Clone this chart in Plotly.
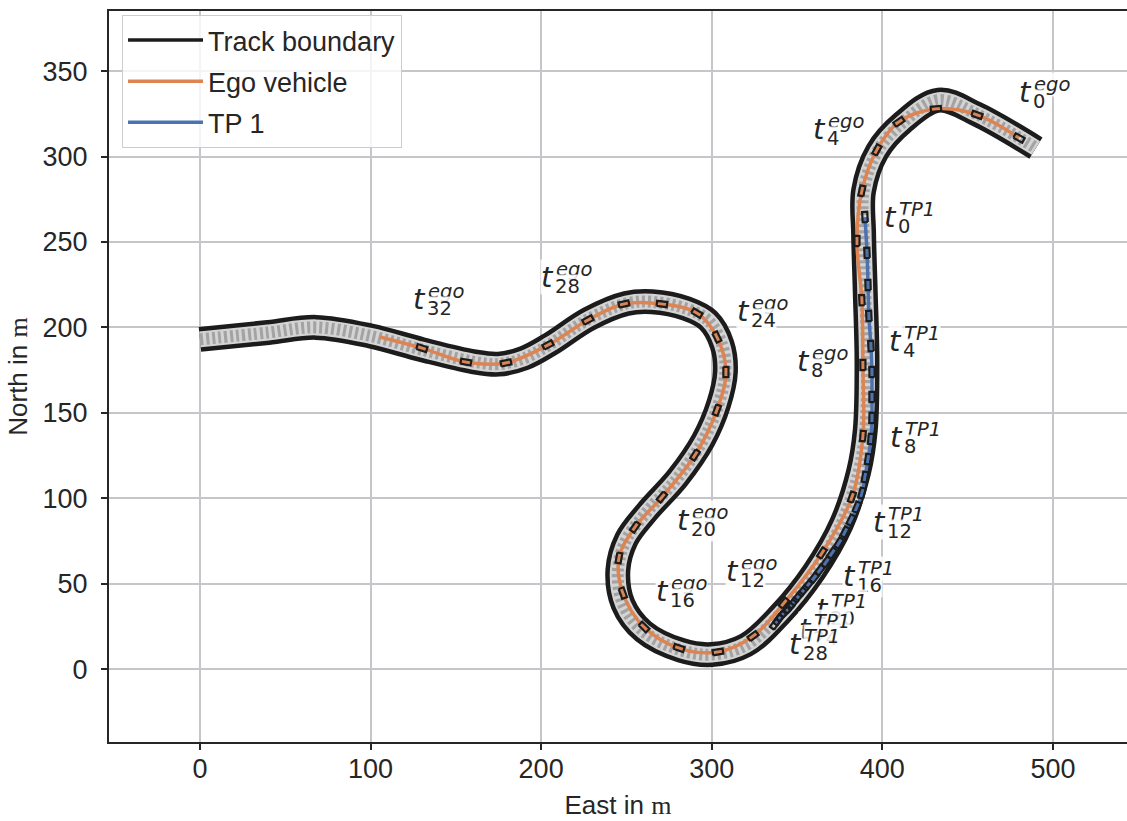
import numpy as np
import plotly.graph_objects as go

# Track centre line (East, North) in metres
track_east = [0, 40, 68, 100, 130, 160, 175, 190, 205, 228, 250, 265, 285, 298, 306, 308,
              304, 295, 280, 262, 250, 245, 248, 260, 282, 300, 320, 340, 360, 376, 386,
              390, 391, 390, 389, 389, 397, 412, 433, 455, 490]
track_north = [193, 197, 200, 195, 187, 180, 178.5, 182, 190, 205, 214, 215, 211, 204, 190, 174,
               155, 134, 112, 92, 76, 58, 38, 22, 11, 8.5, 14, 32, 57, 85, 115,
               140, 180, 220, 255, 280, 303, 320, 333, 325, 305]

# Ego vehicle position at each time step t0 ... t32
ego_east = [480.1, 455.5, 431.4, 409.7, 396.8, 388.0, 385.1, 388.0, 388.6, 388.6, 382.2,
            364.6, 342.3, 324.2, 303.6, 280.8, 260.3, 247.9, 245.6, 255.0, 270.8, 290.2,
            303.0, 308.3, 303.0, 291.3, 270.8, 248.5, 227.4, 204.0, 179.4, 155.9, 130.1]
ego_north = [310.9, 324.4, 327.9, 320.3, 303.9, 279.9, 250.6, 216.0, 178.0, 136.4, 100.7,
             67.9, 38.6, 19.3, 10.0, 12.3, 24.6, 44.5, 65.0, 83.1, 100.7, 125.3,
             151.6, 173.9, 194.4, 208.4, 213.7, 213.7, 204.3, 189.7, 179.2, 179.7, 187.9]
# End of the ego trajectory after the last drawn step
ego_tail_east = [105.5]
ego_tail_north = [194.4]

# Target participant 1 position at each time step t0 ... t28
tp1_east = [389.8, 391.0, 391.6, 392.1, 393.3, 393.9, 393.9, 393.9, 393.3, 391.6, 389.8,
            388.0, 385.1, 381.6, 378.1, 374.6, 370.5, 367.0, 363.4, 359.9, 356.4, 353.5,
            350.5, 347.6, 345.3, 343.0, 340.6, 338.9, 337.1]
tp1_north = [264.6, 243.6, 224.8, 206.7, 189.1, 173.9, 159.3, 147.0, 134.7, 122.9, 112.4,
             103.0, 94.8, 87.2, 80.2, 73.8, 67.9, 62.6, 58.0, 53.3, 49.2, 45.7,
             42.2, 38.6, 35.7, 33.4, 31.0, 28.7, 26.3]

# Time-step labels: step index and anchor (right edge / baseline of the "t")
ego_label_steps = [0, 4, 8, 12, 16, 20, 24, 28, 32]
ego_label_east = [488.3, 367.5, 358.1, 316.5, 275.5, 287.8, 323.0, 208.1, 133.1]
ego_label_north = [331.4, 309.7, 173.9, 50.9, 39.2, 80.8, 203.2, 223.1, 210.2]
tp1_label_steps = [0, 4, 8, 12, 16, 20, 24, 28]
tp1_label_east = [409.1, 412.1, 412.7, 402.7, 385.1, 369.3, 359.3, 353.5]
tp1_label_north = [258.2, 185.6, 129.4, 79.6, 48.0, 28.7, 17.0, 8.2]

x_ticks = [0, 100, 200, 300, 400, 500]
y_ticks = [0, 50, 100, 150, 200, 250, 300, 350]

CAR_LENGTH = 6.0
CAR_WIDTH = 3.0

BLACK = "#1c1c1c"
ORANGE = "#dd8452"
BLUE = "#4c72b0"
TEXT = "#262626"


def car_outlines(xs, ys):
    """Oriented rectangles around each position, aligned with the heading."""
    xs = np.asarray(xs, dtype=float)
    ys = np.asarray(ys, dtype=float)
    dx = np.gradient(xs)
    dy = np.gradient(ys)
    norm = np.hypot(dx, dy)
    ux, uy = dx / norm, dy / norm
    nx, ny = -uy, ux
    hl, hw = CAR_LENGTH / 2, CAR_WIDTH / 2
    ox, oy = [], []
    for x, y, a, b, c, d in zip(xs, ys, ux, uy, nx, ny):
        corners = [(hl, hw), (hl, -hw), (-hl, -hw), (-hl, hw), (hl, hw)]
        for s, t in corners:
            ox.append(x + a * s + c * t)
            oy.append(y + b * s + d * t)
        ox.append(None)
        oy.append(None)
    return ox, oy


fig = go.Figure()

# Track: dark border, light surface and transverse stripes
fig.add_trace(go.Scatter(x=track_east, y=track_north, mode="lines",
                         line=dict(color=BLACK, width=25, shape="spline", smoothing=1),
                         showlegend=False, hoverinfo="skip"))
fig.add_trace(go.Scatter(x=track_east, y=track_north, mode="lines",
                         line=dict(color="#d4d4d4", width=16, shape="spline", smoothing=1),
                         showlegend=False, hoverinfo="skip"))
fig.add_trace(go.Scatter(x=track_east, y=track_north, mode="lines",
                         line=dict(color="#a3a3a3", width=12, shape="spline", smoothing=1,
                                   dash="3px,3px"),
                         showlegend=False, hoverinfo="skip"))

# Trajectories
fig.add_trace(go.Scatter(x=ego_east + ego_tail_east, y=ego_north + ego_tail_north, mode="lines",
                         line=dict(color=ORANGE, width=3.5, shape="spline", smoothing=1),
                         showlegend=False, hoverinfo="skip"))
fig.add_trace(go.Scatter(x=tp1_east, y=tp1_north, mode="lines",
                         line=dict(color=BLUE, width=3.5, shape="spline", smoothing=1),
                         showlegend=False, hoverinfo="skip"))

# Vehicle footprints
ex, ey = car_outlines(ego_east, ego_north)
fig.add_trace(go.Scatter(x=ex, y=ey, mode="lines", line=dict(color=BLACK, width=2.2),
                         showlegend=False, hoverinfo="skip"))
tx, ty = car_outlines(tp1_east, tp1_north)
fig.add_trace(go.Scatter(x=tx, y=ty, mode="lines", line=dict(color=BLACK, width=2.2),
                         showlegend=False, hoverinfo="skip"))

# Legend entries
for name, color, grp in [("Track boundary", BLACK, "a"), ("Ego vehicle", ORANGE, "b"),
                         ("TP 1", BLUE, "c")]:
    fig.add_trace(go.Scatter(x=[None], y=[None], mode="lines", name=name, legendgroup=grp,
                             line=dict(color=color, width=3.5)))

annotations = []
LABEL_FONT = "DejaVu Sans"
BG = "rgba(255,255,255,0.85)"


def add_label(x, y, sup, sub):
    annotations.append(dict(x=x, y=y, xref="x", yref="y", showarrow=False,
                            text="<i>t</i>", xanchor="right", yanchor="bottom",
                            yshift=-7, borderpad=0, bgcolor=BG,
                            font=dict(family=LABEL_FONT, size=29, color=TEXT)))
    annotations.append(dict(x=x, y=y, xref="x", yref="y", showarrow=False,
                            text="<i>%s</i>" % sup, xanchor="left", yanchor="bottom",
                            yshift=6, xshift=0, borderpad=0, bgcolor=BG,
                            font=dict(family=LABEL_FONT, size=19.5, color=TEXT)))
    annotations.append(dict(x=x, y=y, xref="x", yref="y", showarrow=False,
                            text=str(sub), xanchor="left", yanchor="bottom",
                            yshift=-11, xshift=-1, borderpad=0, bgcolor=BG,
                            font=dict(family=LABEL_FONT, size=19.5, color=TEXT)))


for k, x, y in zip(ego_label_steps, ego_label_east, ego_label_north):
    add_label(x, y, "ego", k)
for k, x, y in zip(tp1_label_steps, tp1_label_east, tp1_label_north):
    add_label(x, y, "TP1", k)

axis_common = dict(showgrid=True, gridcolor="#c6c6ca", gridwidth=1.6, zeroline=False,
                   showline=True, linecolor=TEXT, linewidth=2, ticks="outside",
                   ticklen=6, tickwidth=1.6, tickcolor=TEXT,
                   tickfont=dict(family="Liberation Sans", size=27, color=TEXT))

serif_m = "<span style='font-family:Liberation Serif'>m</span>"

fig.update_layout(
    width=1127, height=821,
    margin=dict(l=109, r=0, t=11, b=79),
    paper_bgcolor="white", plot_bgcolor="white",
    xaxis=dict(range=[-53.3, 543.4], tickvals=x_ticks, mirror=True, ticklabelstandoff=-4,
               title=dict(text="East in " + serif_m, standoff=12,
                          font=dict(family="Liberation Sans", size=26, color=TEXT)),
               **axis_common),
    yaxis=dict(range=[-42.7, 385.2], tickvals=y_ticks, mirror=False, ticklabelstandoff=8,
               title=dict(text="North in " + serif_m, standoff=7,
                          font=dict(family="Liberation Sans", size=26, color=TEXT)),
               **axis_common),
    legend=dict(x=0.0128, y=0.9945, xanchor="left", yanchor="top",
                bgcolor="rgba(255,255,255,0.8)", bordercolor="#cccccc", borderwidth=1,
                font=dict(family="Liberation Sans", size=27, color=TEXT),
                itemwidth=75, tracegroupgap=3, traceorder="grouped",
                entrywidth=228, entrywidthmode="pixels"),
    annotations=annotations,
)

fig.write_html("out.html")
